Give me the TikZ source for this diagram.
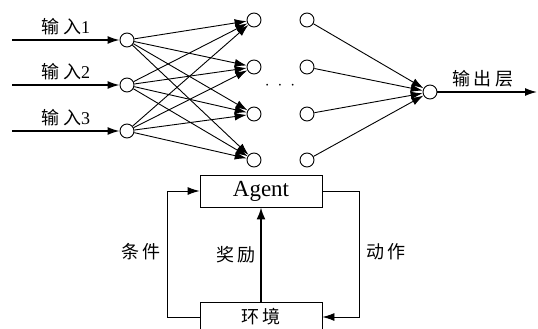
\documentclass[tikz,border=0pt]{standalone}
\usepackage{fontspec}
\setmainfont{Liberation Serif}
\newfontfamily\cjk[LetterSpace=20]{Noto Sans CJK SC}
\usetikzlibrary{arrows.meta}

\tikzset{
  neuron/.style={circle,draw,line width=0.9pt,minimum size=14pt,inner sep=0pt},
  conn/.style={line width=0.9pt,-{Latex[length=12pt,width=8pt]}},
  feed/.style={line width=1.4pt,-{Latex[length=12pt,width=8pt]}},
  block/.style={draw,line width=0.9pt,minimum width=122pt,minimum height=32pt,inner sep=0pt},
  lbl/.style={font=\fontsize{18}{18}\selectfont},
}

\begin{document}
\begin{tikzpicture}[x=1pt,y=-1pt]
  \useasboundingbox (0,0) rectangle (538,329);
  % input layer
  \foreach \i/\y in {1/40,2/85,3/131} {
    \node[neuron] (in\i) at (127,\y) {};
    \coordinate (src\i) at (12,\y);
    \draw[feed] (src\i) -- (in\i) node[lbl,midway,above=1pt] {{\cjk 输入}\i};
  }
  % hidden layers
  \foreach \j/\y in {1/20,2/67,3/114,4/160} {
    \node[neuron] (h\j) at (254,\y) {};
    \node[neuron] (g\j) at (307,\y) {};
  }
  \foreach \i in {1,2,3}
    \foreach \j in {1,...,4}
      \draw[conn] (in\i) -- (h\j);
  \node[lbl] (dots) at (280,86) {$\cdot$\hspace{8pt}$\cdot$\hspace{8pt}$\cdot$};
  % output
  \node[neuron] (out) at (430,92) {};
  \foreach \j in {1,...,4}
    \draw[conn] (g\j) -- (out);
  \coordinate (sink) at (537,92);
  \draw[feed] (out) -- (sink);
  \node[lbl] (outlbl) at (483,79) {\cjk 输出层};
  % agent loop
  \node[block] (agent) at (261,191) {\fontsize{23}{23}\selectfont Agent};
  \node[block,minimum height=30pt] (env) at (261,317) {\fontsize{18}{18}\selectfont\cjk 环境};
  \draw[conn] (env.west) -- ++(-32,0) |- (agent.west);
  \draw[conn] (agent.east) -- ++(37,0) |- (env.east);
  \draw[line width=1.8pt,-{Latex[length=12pt,width=9pt]}] (env.north) -- (agent.south)
    node[lbl,midway,left=1pt] {\cjk 奖励};
  \node[lbl] (cond) at (141,252) {\cjk 条件};
  \node[lbl] (act) at (386,252) {\cjk 动作};
\end{tikzpicture}
\end{document}
